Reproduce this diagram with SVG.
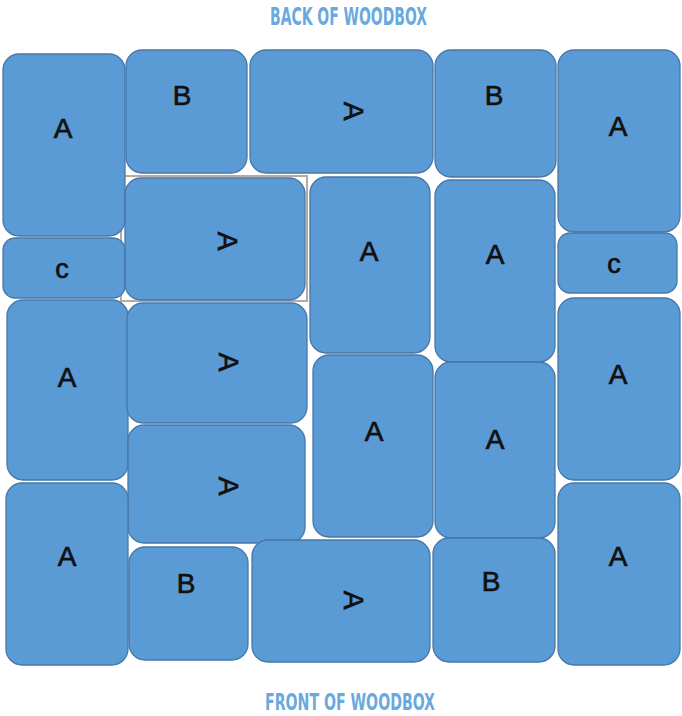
<svg xmlns="http://www.w3.org/2000/svg" width="682" height="716" viewBox="0 0 682 716">
<style>
.box{fill:#5b9bd5;stroke:#4677a8;stroke-width:1.3}
.lbl{font-family:"Liberation Sans",Arial,sans-serif;font-size:28px;fill:#111;stroke:#111;stroke-width:0.7;text-anchor:middle}
.sm{font-size:27px}
.title{font-family:"Liberation Sans Narrow","DejaVu Sans Condensed","Liberation Sans",sans-serif;font-weight:bold;font-size:24px;fill:#6aa9de}
.ft{font-size:23px}
</style>
<rect width="682" height="716" fill="#ffffff"/>
<text class="title" x="270" y="25" textLength="157" lengthAdjust="spacingAndGlyphs">BACK OF WOODBOX</text>
<text class="title ft" x="265" y="710" textLength="170" lengthAdjust="spacingAndGlyphs">FRONT OF WOODBOX</text>
<rect x="121" y="176" width="186" height="125" fill="none" stroke="#b3aba4" stroke-width="2"/>
<g id="n1"><rect class="box" x="3" y="54" width="122" height="182" rx="16"/><text class="lbl" x="63" y="138">A</text></g>
<g id="n2"><rect class="box" x="126" y="50" width="121" height="123" rx="16"/><text class="lbl" x="182" y="105">B</text></g>
<g id="n3"><rect class="box" x="250" y="50" width="183" height="123" rx="16"/><text class="lbl" x="354" y="121" transform="rotate(90 354 111)">A</text></g>
<g id="n4"><rect class="box" x="435" y="50" width="121" height="127" rx="16"/><text class="lbl" x="494" y="105">B</text></g>
<g id="n5"><rect class="box" x="558" y="50" width="122" height="182" rx="16"/><text class="lbl" x="618" y="136">A</text></g>
<g id="n6"><rect class="box" x="3" y="238" width="122" height="60" rx="12"/><text class="lbl sm" x="62" y="278">c</text></g>
<g id="n7"><rect class="box" x="125" y="178" width="180" height="122" rx="16"/><text class="lbl" x="228" y="251" transform="rotate(90 228 241)">A</text></g>
<g id="n8"><rect class="box" x="310" y="177" width="120" height="176" rx="16"/><text class="lbl" x="369" y="261">A</text></g>
<g id="n9"><rect class="box" x="435" y="180" width="120" height="182" rx="16"/><text class="lbl" x="495" y="264">A</text></g>
<g id="n10"><rect class="box" x="558" y="233" width="119" height="60" rx="12"/><text class="lbl sm" x="614" y="273">c</text></g>
<g id="n11"><rect class="box" x="7" y="300" width="121" height="180" rx="16"/><text class="lbl" x="67" y="387">A</text></g>
<g id="n12"><rect class="box" x="127" y="303" width="180" height="120" rx="16"/><text class="lbl" x="229" y="372" transform="rotate(90 229 362)">A</text></g>
<g id="n13"><rect class="box" x="128" y="425" width="177" height="118" rx="16"/><text class="lbl" x="229" y="496" transform="rotate(90 229 486)">A</text></g>
<g id="n14"><rect class="box" x="313" y="355" width="120" height="182" rx="16"/><text class="lbl" x="374" y="441">A</text></g>
<g id="n15"><rect class="box" x="435" y="362" width="120" height="176" rx="16"/><text class="lbl" x="495" y="449">A</text></g>
<g id="n16"><rect class="box" x="558" y="298" width="122" height="182" rx="16"/><text class="lbl" x="618" y="384">A</text></g>
<g id="n17"><rect class="box" x="6" y="483" width="122" height="182" rx="16"/><text class="lbl" x="67" y="566">A</text></g>
<g id="n18"><rect class="box" x="129" y="547" width="119" height="113" rx="16"/><text class="lbl" x="186" y="593">B</text></g>
<g id="n19"><rect class="box" x="252" y="540" width="178" height="122" rx="16"/><text class="lbl" x="354" y="610" transform="rotate(90 354 600)">A</text></g>
<g id="n20"><rect class="box" x="433" y="538" width="122" height="124" rx="16"/><text class="lbl" x="491" y="591">B</text></g>
<g id="n21"><rect class="box" x="558" y="483" width="122" height="182" rx="16"/><text class="lbl" x="618" y="566">A</text></g>
<g id="connectors"></g>
</svg>
